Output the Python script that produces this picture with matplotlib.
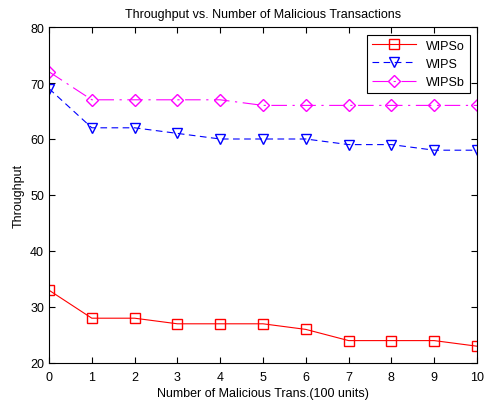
import matplotlib
matplotlib.use("Agg")
import matplotlib.pyplot as plt

plt.rcParams['font.family'] = ['Liberation Sans', 'DejaVu Sans']

x = list(range(11))
wipso = [33, 28, 28, 27, 27, 27, 26, 24, 24, 24, 23]
wips = [69, 62, 62, 61, 60, 60, 60, 59, 59, 58, 58]
wipsb = [72, 67, 67, 67, 67, 66, 66, 66, 66, 66, 66]

fig = plt.figure(figsize=(4.84, 4.02), dpi=100)
ax = fig.add_axes([49/484, 1 - 364/402, 428/484, 336/402])

ax.plot(x, wipso, '-', color='red', marker='s', mfc='none', ms=7, lw=0.8, label='WIPSo')
ax.plot(x, wips, '--', color='blue', marker='v', mfc='none', ms=7, lw=0.8, dashes=(6, 4), label='WIPS')
ax.plot(x, wipsb, color='magenta', marker='D', mfc='none', ms=6, lw=0.8,
        dashes=(14, 5, 2, 5), label='WIPSb')

ax.set_xlim(0, 10)
ax.set_ylim(20, 80)
ax.set_xticks(range(11))
ax.set_yticks(range(20, 81, 10))
ax.tick_params(direction='in', top=True, right=True, labelsize=9, length=4, width=0.8)
ax.tick_params(axis='x', pad=6)
for s in ax.spines.values():
    s.set_linewidth(0.8)

ax.set_title('Throughput vs. Number of Malicious Transactions', fontsize=9, pad=7)
ax.set_xlabel('Number of Malicious Trans.(100 units)', fontsize=9, labelpad=3)
ax.set_ylabel('Throughput', fontsize=9)

leg = ax.legend(loc='upper right', fontsize=9, fancybox=False, edgecolor='black',
                framealpha=1, handlelength=3.5, borderaxespad=0.6)
leg.get_frame().set_linewidth(0.8)

fig.savefig('out.png', dpi=100)
